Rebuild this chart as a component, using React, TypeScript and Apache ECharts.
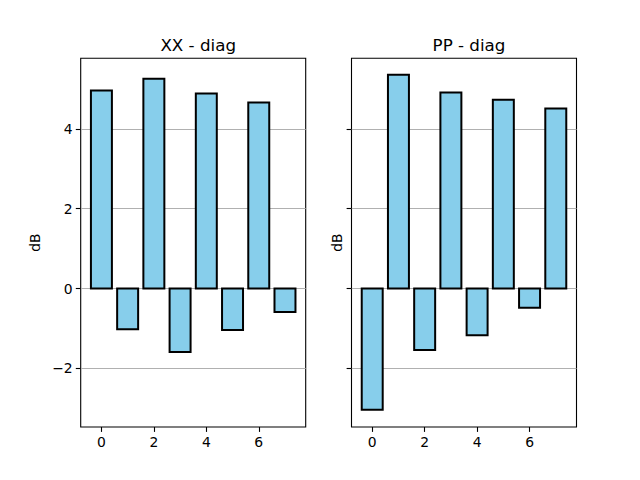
import React, { useEffect, useRef } from "react";
import * as echarts from "echarts";

const indices = [0, 1, 2, 3, 4, 5, 6, 7];
const xxValues = [4.96, -1.02, 5.26, -1.59, 4.89, -1.04, 4.66, -0.59];
const ppValues = [-3.04, 5.36, -1.54, 4.91, -1.17, 4.73, -0.48, 4.51];
const titles = ["XX - diag", "PP - diag"];
const yTicks = [-2, 0, 2, 4];
const xTicks = [0, 2, 4, 6];

const FONT = "DejaVu Sans";
const BAR_HALF = 0.4;

function renderBar(params: any, api: any) {
  const x = api.value(0);
  const v = api.value(1);
  const p1 = api.coord([x - BAR_HALF, Math.max(v, 0)]);
  const p2 = api.coord([x + BAR_HALF, Math.min(v, 0)]);
  return {
    type: "rect",
    shape: { x: p1[0], y: p1[1], width: p2[0] - p1[0], height: p2[1] - p1[1] },
    style: { fill: "#87CEEB", stroke: "#000000", lineWidth: 2 },
  };
}

export default function App() {
  const ref = useRef<HTMLDivElement>(null);
  useEffect(() => {
    document.body.style.margin = "0";
    const chart = echarts.init(ref.current!, null, { renderer: "svg" });
    const lefts = [80.7, 351.5];
    const grids = lefts.map((l) => ({
      left: l,
      top: 58.3,
      width: 225,
      height: 368.7,
      show: true,
      borderColor: "#000",
      borderWidth: 1.1,
      backgroundColor: "transparent",
    }));
    const xAxes = lefts.map((_, i) => ({
      type: "value",
      gridIndex: i,
      min: -0.79,
      max: 7.79,
      axisLine: { show: false, onZero: false },
      axisTick: { show: true, length: 4.9, lineStyle: { color: "#000", width: 1.1 }, customValues: xTicks },
      axisLabel: { show: true, margin: 8, color: "#000", fontSize: 13.9, fontFamily: FONT, customValues: xTicks },
      splitLine: { show: false },
    }));
    const yAxes = lefts.map((_, i) => ({
      type: "value",
      gridIndex: i,
      min: -3.47,
      max: 5.77,
      name: "dB",
      nameLocation: "middle",
      nameGap: i === 0 ? 39 : 8,
      nameTextStyle: { color: "#000", fontSize: 13.9, fontFamily: FONT },
      axisLine: { show: false, onZero: false },
      axisTick: { show: true, length: 4.9, lineStyle: { color: "#000", width: 1.1 }, customValues: yTicks },
      axisLabel: {
        show: i === 0,
        margin: 8,
        color: "#000",
        fontSize: 13.9,
        fontFamily: FONT,
        customValues: yTicks,
        formatter: (v: number) => String(v).replace("-", "\u2212"),
      },
      splitLine: { show: true, lineStyle: { color: "#b0b0b0", width: 1.1 } },
    }));
    const seriesData = [xxValues, ppValues];
    chart.setOption({
      animation: false,
      title: titles.map((t, i) => ({
        text: t,
        left: lefts[i] + 112.5,
        textAlign: "center",
        top: 31,
        textStyle: { color: "#000", fontSize: 16.7, fontWeight: "normal", fontFamily: FONT },
      })),
      grid: grids,
      xAxis: xAxes,
      yAxis: yAxes,
      series: seriesData.map((vals, i) => ({
        type: "custom",
        xAxisIndex: i,
        yAxisIndex: i,
        renderItem: renderBar,
        data: indices.map((x, j) => [x, vals[j]]),
        encode: { x: 0, y: 1 },
        z: 3,
      })),
    });
    return () => chart.dispose();
  }, []);
  return <div ref={ref} style={{ width: 640, height: 480 }} />;
}
